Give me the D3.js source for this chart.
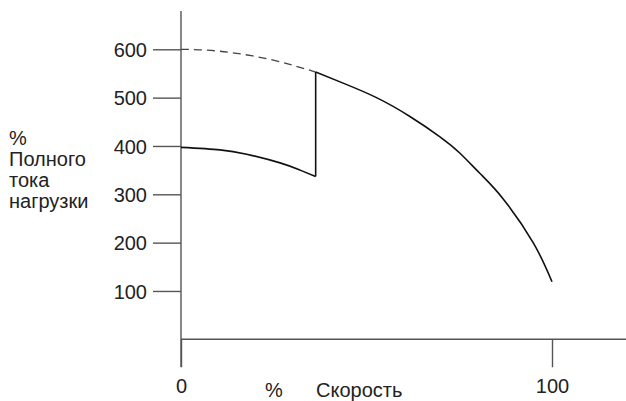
<!DOCTYPE html>
<html>
<head>
<meta charset="utf-8">
<script src="https://cdn.jsdelivr.net/npm/d3@7"></script>
<style>
  body { margin: 0; background: #fff; }
  text { font-family: "Liberation Sans", Arial, sans-serif; fill: #222; }
</style>
</head>
<body>
<div class="panel"></div>
<script>
// y ticks and x ticks
const yTicks = [100, 200, 300, 400, 500, 600];
const xTicks = [0, 100];
const yLabelLines = ["%", "Полного", "тока", "нагрузки"];
const xLabelPct = "%";
const xLabelText = "Скорость";

// dashed part of the upper curve (speed %, current %)
const dashedSpeed = [0, 10.5, 24, 36.3];
const dashedCurrent = [600, 596, 579, 553];

// lower curve, from start to the switch-over point
const lowSpeed = [0, 10.5, 17.7, 26.7, 32.1, 36.3];
const lowCurrent = [397, 392, 383, 365, 350, 337];

// upper solid curve, from the switch-over point to full speed
const highSpeed = [36.3, 43.7, 52.7, 61.7, 69.8, 75.2, 80.6, 86.9, 95, 100];
const highCurrent = [553, 530, 500, 461, 419, 385, 343, 290, 199, 119];

const width = 626;
const height = 401;

const svg = d3.select(".panel")
    .append("svg")
    .attr("width", width)
    .attr("height", height)
    .attr("viewBox", `0 0 ${width} ${height}`);

const x = d3.scaleLinear().domain([0, 100]).range([181, 552]);
const y = d3.scaleLinear().domain([0, 600]).range([339.3, 49.3]);

const axisColour = "#555";

// axis lines
svg.append("line")
    .attr("x1", x(0)).attr("x2", x(0))
    .attr("y1", 11).attr("y2", 367)
    .attr("stroke", axisColour)
    .attr("stroke-width", 1.4);

svg.append("line")
    .attr("x1", x(0)).attr("x2", width)
    .attr("y1", y(0)).attr("y2", y(0))
    .attr("stroke", axisColour)
    .attr("stroke-width", 1.4);

const yAxis = svg.append("g")
    .attr("transform", `translate(${x(0)},0)`)
    .call(d3.axisLeft(y).tickValues(yTicks).tickSize(28).tickPadding(6));

const xAxis = svg.append("g")
    .attr("transform", `translate(0,${y(0)})`)
    .call(d3.axisBottom(x).tickValues(xTicks).tickSize(28).tickPadding(12));

[yAxis, xAxis].forEach(g => {
  g.select(".domain").remove();
  g.selectAll(".tick line").attr("stroke", axisColour).attr("stroke-width", 1.4);
  g.selectAll(".tick text")
   .attr("fill", "#222")
   .style("font-size", "20px")
   .style("font-family", "'Liberation Sans', Arial, sans-serif");
});
yAxis.selectAll(".tick text").attr("dy", "0.36em");

// axis titles
svg.append("text")
    .selectAll("tspan")
    .data(yLabelLines)
    .enter()
    .append("tspan")
    .attr("x", 9)
    .attr("y", (d, i) => 145 + i * 21)
    .style("font-size", "20px")
    .text(d => d);

svg.append("text")
    .attr("x", 265)
    .attr("y", 397)
    .style("font-size", "20px")
    .text(xLabelPct);

svg.append("text")
    .attr("x", 316)
    .attr("y", 397)
    .style("font-size", "20px")
    .text(xLabelText);

// curves
const line = d3.line()
    .x(d => x(d[0]))
    .y(d => y(d[1]))
    .curve(d3.curveNatural);

const zip = (a, b) => a.map((v, i) => [v, b[i]]);

svg.append("path")
    .attr("d", line(zip(dashedSpeed, dashedCurrent)))
    .attr("fill", "none")
    .attr("stroke", "#444")
    .attr("stroke-width", 1.3)
    .attr("stroke-dasharray", "8,5");

svg.append("path")
    .attr("d", line(zip(lowSpeed, lowCurrent)))
    .attr("fill", "none")
    .attr("stroke", "#111")
    .attr("stroke-width", 1.6);

svg.append("path")
    .attr("d", line(zip(highSpeed, highCurrent)))
    .attr("fill", "none")
    .attr("stroke", "#111")
    .attr("stroke-width", 1.6);

// vertical jump at the switch-over point
const jump = lowSpeed[lowSpeed.length - 1];
svg.append("line")
    .attr("x1", x(jump)).attr("x2", x(jump))
    .attr("y1", y(lowCurrent[lowCurrent.length - 1]))
    .attr("y2", y(highCurrent[0]))
    .attr("stroke", "#111")
    .attr("stroke-width", 1.6);
</script>
</body>
</html>
